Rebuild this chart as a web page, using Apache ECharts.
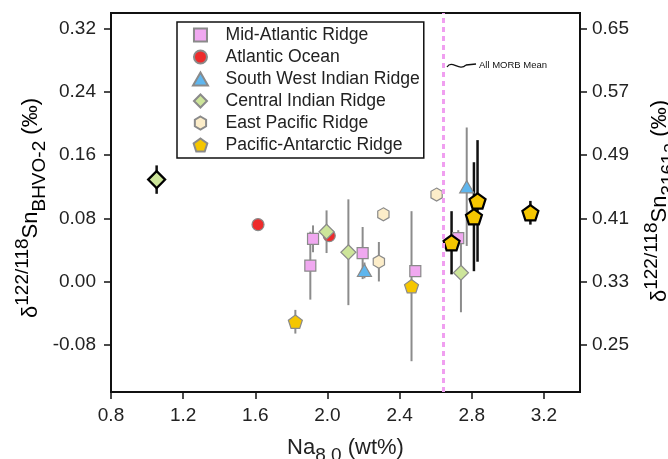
<!DOCTYPE html>
<html>
<head>
<meta charset="utf-8">
<script src="https://cdn.jsdelivr.net/npm/echarts@6/dist/echarts.min.js"></script>
<style>
html,body{margin:0;padding:0;background:#fff}
#chart{width:668px;height:459px}
</style>
</head>
<body>
<div id="chart"></div>
<script>
// [Na8.0, delta122/118Sn, 2sd, thisStudy]
var midAtlanticRidge = [[1.920, 0.054, 0.017], [1.905, 0.020, 0.043], [2.195, 0.036, 0.033], [2.487, 0.013, 0.006], [2.725, 0.055, 0.010]];
var atlanticOcean = [[1.615, 0.072, 0.005], [2.010, 0.058, 0.005]];
var swIndianRidge = [[2.205, 0.014, 0.010], [2.772, 0.120, 0.075]];
var centralIndianRidge = [[1.053, 0.129, 0.018, 1], [1.995, 0.063, 0.027], [2.116, 0.037, 0.067], [2.740, 0.011, 0.050]];
var eastPacificRidge = [[2.310, 0.085, 0.004], [2.285, 0.025, 0.025], [2.605, 0.110, 0.004]];
var pacAntarcticRidge = [[1.822, -0.051, 0.015], [2.466, -0.006, 0.095], [2.688, 0.049, 0.040, 1], [2.812, 0.082, 0.069, 1], [2.832, 0.102, 0.077, 1], [3.125, 0.087, 0.015, 1]];

var morbMean = 2.64;
var xTicks = [0.8, 1.2, 1.6, 2.0, 2.4, 2.8, 3.2];
var leftTicks = [-0.08, 0, 0.08, 0.16, 0.24, 0.32];
var rightTicks = [0.25, 0.33, 0.41, 0.49, 0.57, 0.65];

var font = 'Liberation Sans, Arial, sans-serif';
var square = 'path://M-1,-1 L1,-1 L1,1 L-1,1 Z';
var triangle = 'path://M0,-0.87 L1,0.87 L-1,0.87 Z';
var diamond = 'path://M0,-1 L1,0 L0,1 L-1,0 Z';
var hexagon = 'path://M0,-1 L0.866,-0.5 L0.866,0.5 L0,1 L-0.866,0.5 L-0.866,-0.5 Z';
var pentagon = 'path://M0,-1 L0.951,-0.309 L0.588,0.809 L-0.588,0.809 L-0.951,-0.309 Z';

function scatter(name, rows, symbol, size, color) {
	return {
		name: name,
		type: 'scatter',
		symbol: symbol,
		symbolSize: size,
		symbolKeepAspect: true,
		z: 3,
		itemStyle: {color: color, borderColor: '#8a8a8a', borderWidth: 1.2, opacity: 1},
		data: rows.map(function (r) {
			if (r[3]) {
				return {value: [r[0], r[1]], symbolSize: size + 2, itemStyle: {borderColor: '#000', borderWidth: 2.2}};
			}
			return [r[0], r[1]];
		})
	};
}

function errorBars(rows, color, width) {
	return {
		type: 'custom',
		silent: true,
		z: 2,
		data: rows.map(function (r) { return [r[0], r[1] - r[2], r[1] + r[2]]; }),
		encode: {x: 0, y: [1, 2]},
		renderItem: function (params, api) {
			var lo = api.coord([api.value(0), api.value(1)]);
			var hi = api.coord([api.value(0), api.value(2)]);
			return {
				type: 'line',
				shape: {x1: lo[0], y1: lo[1], x2: hi[0], y2: hi[1]},
				style: {stroke: color, lineWidth: width}
			};
		}
	};
}

var allRows = [].concat(midAtlanticRidge, atlanticOcean, swIndianRidge, centralIndianRidge, eastPacificRidge, pacAntarcticRidge);
var grayRows = allRows.filter(function (r) { return !r[3]; });
var blackRows = allRows.filter(function (r) { return r[3]; });

var titleRich = {
	m: {fontSize: 22, fontFamily: font, color: '#222', lineHeight: 26, verticalAlign: 'middle'},
	sup: {fontSize: 19, fontFamily: font, color: '#222', lineHeight: 24, verticalAlign: 'top'},
	sub: {fontSize: 19, fontFamily: font, color: '#222', lineHeight: 24, verticalAlign: 'bottom'},
	pad: {fontSize: 19, lineHeight: 36, verticalAlign: 'middle'}
};
var xTitleRich = {
	m: titleRich.m,
	sub: titleRich.sub,
	pad: {fontSize: 19, lineHeight: 35, verticalAlign: 'middle'}
};

var axisText = {color: '#222', fontSize: 19, fontFamily: font};

var option = {
	animation: false,
	backgroundColor: '#fff',
	grid: {left: 111, right: 88, top: 13, bottom: 67, outerBoundsMode: 'none', containLabel: false, show: true, borderColor: '#111', borderWidth: 2, backgroundColor: 'transparent'},
	legend: {
		orient: 'vertical',
		left: 177,
		top: 22,
		padding: [4, 4, 4, 15],
		itemWidth: 40,
		itemHeight: 13,
		itemGap: 4,
		backgroundColor: '#fff',
		borderColor: '#111',
		borderWidth: 1.5,
		textStyle: {fontSize: 17.6, lineHeight: 17, color: '#222', fontFamily: font},
		data: [
			{name: 'Mid-Atlantic Ridge', icon: square},
			{name: 'Atlantic Ocean'},
			{name: 'South West Indian Ridge', icon: triangle},
			{name: 'Central Indian Ridge', icon: diamond},
			{name: 'East Pacific Ridge'},
			{name: 'Pacific-Antarctic Ridge'}
		]
	},
	xAxis: {
		type: 'value',
		min: 0.8,
		max: 3.4,
		name: '{m|Na}{sub|8.0}{m| (wt%)}{pad|}',
		nameLocation: 'middle',
		nameGap: 38,
		nameMoveOverlap: false,
		nameTextStyle: {rich: xTitleRich},
		axisLine: {onZero: false, lineStyle: {color: '#111', width: 2}},
		axisTick: {length: 7, lineStyle: {color: '#111', width: 1.5}, customValues: xTicks},
		axisLabel: Object.assign({margin: 14, customValues: xTicks, formatter: function (v) { return v.toFixed(1); }}, axisText),
		splitLine: {show: false}
	},
	yAxis: [{
		type: 'value',
		position: 'left',
		min: -0.14,
		max: 0.34,
		axisLine: {show: true, onZero: false, lineStyle: {color: '#111', width: 2}},
		axisTick: {show: true, length: 7, lineStyle: {color: '#111', width: 1.5}, customValues: leftTicks},
		axisLabel: Object.assign({margin: 15, customValues: leftTicks, formatter: function (v) { return v.toFixed(2); }}, axisText),
		splitLine: {show: false}
	}, {
		type: 'value',
		position: 'right',
		min: 0.19,
		max: 0.67,
		axisLine: {show: true, onZero: false, lineStyle: {color: '#111', width: 2}},
		axisTick: {show: true, length: 7, lineStyle: {color: '#111', width: 1.5}, customValues: rightTicks},
		axisLabel: Object.assign({margin: 12, customValues: rightTicks, formatter: function (v) { return v.toFixed(2); }}, axisText),
		splitLine: {show: false}
	}],
	graphic: [{
		type: 'text',
		x: 31, y: 208,
		rotation: Math.PI / 2,
		style: {
			text: '{m|δ}{sup|122/118}{m|Sn}{sub|BHVO-2}{m| (‰)}{pad|}',
			rich: titleRich,
			align: 'center', verticalAlign: 'middle',
			textAlign: 'center', textVerticalAlign: 'middle'
		}
	}, {
		type: 'text',
		x: 660, y: 201,
		rotation: Math.PI / 2,
		style: {
			text: '{m|δ}{sup|122/118}{m|Sn}{sub|3161a}{m| (‰)}{pad|}',
			rich: titleRich,
			align: 'center', verticalAlign: 'middle',
			textAlign: 'center', textVerticalAlign: 'middle'
		}
	}, {
		type: 'bezierCurve',
		shape: {x1: 447, y1: 67, x2: 466, y2: 65, cpx1: 452, cpy1: 59, cpx2: 459, cpy2: 72},
		style: {stroke: '#111', lineWidth: 1.3, fill: null}
	}, {
		type: 'line',
		shape: {x1: 466, y1: 65, x2: 476, y2: 64},
		style: {stroke: '#111', lineWidth: 1.3}
	}, {
		type: 'text',
		x: 479, y: 65,
		style: {text: 'All MORB Mean', fontSize: 9.5, fontFamily: font, fill: '#111', verticalAlign: 'middle', textVerticalAlign: 'middle'}
	}],
	series: [
		errorBars(grayRows, '#8c8c8c', 2),
		errorBars(blackRows, '#111', 2.5),
		Object.assign(scatter('Mid-Atlantic Ridge', midAtlanticRidge, square, 11, '#f0a8f0'), {
			markLine: {
				silent: true,
				symbol: 'none',
				label: {show: false},
				lineStyle: {color: '#f09ff0', type: [5, 4], width: 3},
				data: [{xAxis: morbMean}]
			}
		}),
		scatter('Atlantic Ocean', atlanticOcean, 'circle', 12, '#ee2b2b'),
		scatter('South West Indian Ridge', swIndianRidge, triangle, 14, '#5fb6ee'),
		scatter('Central Indian Ridge', centralIndianRidge, diamond, 15, '#cde59a'),
		scatter('East Pacific Ridge', eastPacificRidge, hexagon, 13, '#fcedc9'),
		scatter('Pacific-Antarctic Ridge', pacAntarcticRidge, pentagon, 14, '#f5c600')
	]
};

var chart = echarts.init(document.getElementById('chart'));
chart.setOption(option);
</script>
</body>
</html>
